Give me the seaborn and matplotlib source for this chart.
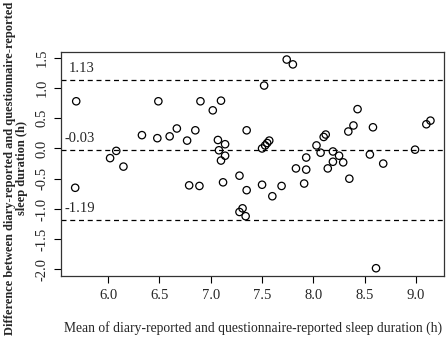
import numpy as np
import pandas as pd
import seaborn as sns
import matplotlib.pyplot as plt

# Bland-Altman data: mean of both reports vs difference (h)
mean_sleep = [5.69, 5.68, 6.02, 6.08, 6.15, 6.33, 6.49, 6.48, 6.60, 6.67,
              6.77, 6.79, 6.90, 6.85, 6.89, 7.02, 7.10, 7.07, 7.14, 7.08,
              7.14, 7.10, 7.12, 7.28, 7.35, 7.35, 7.31, 7.28, 7.34, 7.52,
              7.50, 7.53, 7.55, 7.57, 7.50, 7.60, 7.69, 7.74, 7.80, 7.83,
              7.93, 7.93, 7.91, 8.03, 8.07, 8.10, 8.12, 8.14, 8.19, 8.19,
              8.25, 8.29, 8.34, 8.39, 8.43, 8.35, 8.55, 8.58, 8.61, 8.68,
              8.99, 9.10, 9.14]
diff_sleep = [0.78, -0.65, -0.16, -0.04, -0.30, 0.22, 0.78, 0.17, 0.20, 0.33,
              0.13, -0.61, 0.78, 0.30, -0.62, 0.63, 0.79, 0.14, 0.07, -0.03,
              -0.12, -0.20, -0.56, -0.45, -0.69, 0.30, -0.99, -1.05, -1.12, 1.04,
              0.00, 0.05, 0.09, 0.13, -0.60, -0.79, -0.62, 1.47, 1.39, -0.33,
              -0.15, -0.35, -0.58, 0.05, -0.07, 0.19, 0.23, -0.33, -0.05, -0.22,
              -0.12, -0.23, 0.28, 0.38, 0.65, -0.50, -0.10, 0.35, -1.98, -0.25,
              -0.02, 0.40, 0.46]

ref_lines = [1.13, -0.03, -1.19]
ref_labels = ["1.13", "-0.03", "-1.19"]
x_ticks = [6.0, 6.5, 7.0, 7.5, 8.0, 8.5, 9.0]
y_ticks = [-2.0, -1.5, -1.0, -0.5, 0.0, 0.5, 1.0, 1.5]

df = pd.DataFrame({"mean": mean_sleep, "diff": diff_sleep})

sns.set_style("ticks")
plt.rcParams["font.family"] = ["Liberation Serif", "DejaVu Serif"]

fig = plt.figure(figsize=(4.47, 3.40), dpi=100)
ax = fig.add_axes([0.1365, 0.188, 0.8575, 0.66])

sns.scatterplot(data=df, x="mean", y="diff", ax=ax, marker="o", s=28,
                facecolor="none", edgecolor="black", linewidth=0.9)

label_x = [5.62, 5.58, 5.58]
for val, lab, lx in zip(ref_lines, ref_labels, label_x):
    ax.axhline(val, color="black", linestyle=(0, (4, 3)), linewidth=0.9)
    ax.text(lx, val + 0.09, lab, ha="left", va="bottom", fontsize=10.5)

ax.set_xlim(5.542, 9.275)
ax.set_ylim(-2.11, 1.60)
ax.set_xticks(x_ticks)
ax.set_xticklabels([f"{t:.1f}" for t in x_ticks])
ax.set_yticks(y_ticks)
ax.set_yticklabels([f"{t:.1f}" for t in y_ticks], rotation=90, va="center")
ax.tick_params(axis="both", labelsize=10.5, length=5, width=0.8, color="black", pad=4)

for sp in ax.spines.values():
    sp.set_visible(True)
    sp.set_color("#333333")
    sp.set_linewidth(0.9)

ax.set_xlabel("Mean of diary-reported and questionnaire-reported sleep duration (h)",
              fontsize=9.8, labelpad=14)
ax.set_ylabel("Difference between diary-reported and questionnaire-reported\nsleep duration (h)",
              fontsize=9, fontweight="bold", linespacing=1.05)
ax.yaxis.set_label_coords(-0.086, 0.482)

fig.savefig("out.png", dpi=100)
